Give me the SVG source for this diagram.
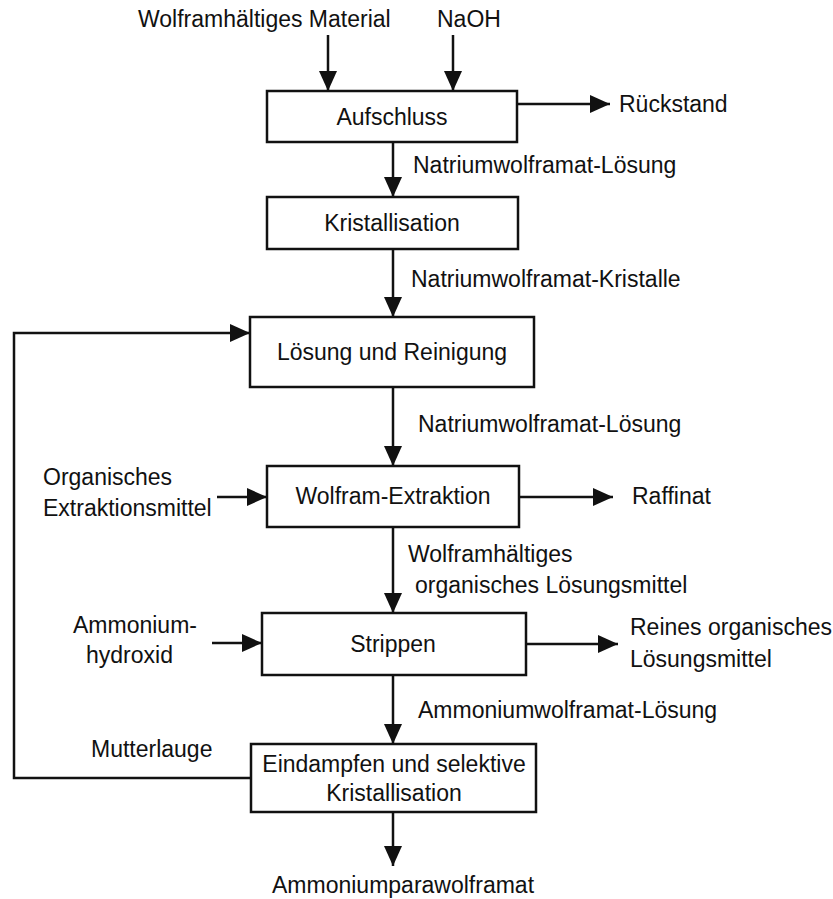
<svg xmlns="http://www.w3.org/2000/svg" width="833" height="899" viewBox="0 0 833 899">
<style>
text{font-family:"Liberation Sans",Arial,sans-serif;font-size:23px;fill:#111}
.c{text-anchor:middle}
.box{fill:#fff;stroke:#111;stroke-width:2.5}
.ln{fill:none;stroke:#111;stroke-width:2.5;marker-end:url(#ah)}
</style>
<defs>
<marker id="ah" markerUnits="userSpaceOnUse" markerWidth="20" markerHeight="18" refX="20" refY="9" orient="auto">
<path d="M0,0 L20,9 L0,18 z" fill="#111"/>
</marker>
</defs>
<rect width="833" height="899" fill="#fff"/>
<g id="connectors">
<line class="ln" x1="328" y1="35" x2="328" y2="91"/>
<line class="ln" x1="453" y1="35" x2="453" y2="91"/>
<line class="ln" x1="393" y1="142" x2="393" y2="197"/>
<line class="ln" x1="393" y1="249" x2="393" y2="317"/>
<line class="ln" x1="393" y1="387" x2="393" y2="466"/>
<line class="ln" x1="393" y1="527" x2="393" y2="613"/>
<line class="ln" x1="393" y1="675" x2="393" y2="744"/>
<line class="ln" x1="393" y1="812" x2="393" y2="866"/>
<line class="ln" x1="517" y1="104" x2="610" y2="104"/>
<line class="ln" x1="519" y1="497" x2="613" y2="497"/>
<line class="ln" x1="526" y1="644" x2="618" y2="644"/>
<line class="ln" x1="217" y1="497" x2="267" y2="497"/>
<line class="ln" x1="212" y1="643" x2="262" y2="643"/>
<path class="ln" d="M251,778 H14 V333 H250"/>
</g>
<g id="n-aufschluss"><rect class="box" x="267" y="91" width="250" height="51"/><text class="c" x="392" y="125">Aufschluss</text></g>
<g id="n-kristallisation"><rect class="box" x="267" y="197" width="251" height="52"/><text class="c" x="392" y="231">Kristallisation</text></g>
<g id="n-loesung"><rect class="box" x="250" y="317" width="284" height="70"/><text class="c" x="392" y="360">Lösung und Reinigung</text></g>
<g id="n-extraktion"><rect class="box" x="267" y="466" width="252" height="61"/><text class="c" x="393" y="504">Wolfram-Extraktion</text></g>
<g id="n-strippen"><rect class="box" x="262" y="613" width="264" height="62"/><text class="c" x="393" y="652">Strippen</text></g>
<g id="n-eindampfen"><rect class="box" x="251" y="744" width="285" height="68"/><text class="c" x="394" y="772">Eindampfen und selektive</text><text class="c" x="394" y="801">Kristallisation</text></g>
<g id="labels">
<text x="138" y="27">Wolframhältiges Material</text>
<text x="437" y="27">NaOH</text>
<text x="619" y="112">Rückstand</text>
<text x="413" y="173">Natriumwolframat-Lösung</text>
<text x="411" y="287">Natriumwolframat-Kristalle</text>
<text x="418" y="432">Natriumwolframat-Lösung</text>
<text x="43" y="485">Organisches</text>
<text x="43" y="516">Extraktionsmittel</text>
<text x="632" y="504">Raffinat</text>
<text x="408" y="562">Wolframhältiges</text>
<text x="415" y="593">organisches Lösungsmittel</text>
<text x="73" y="633">Ammonium-</text>
<text x="86" y="663">hydroxid</text>
<text x="630" y="635">Reines organisches</text>
<text x="630" y="667">Lösungsmittel</text>
<text x="418" y="718">Ammoniumwolframat-Lösung</text>
<text x="91" y="757">Mutterlauge</text>
<text x="272" y="893">Ammoniumparawolframat</text>
</g>
</svg>
